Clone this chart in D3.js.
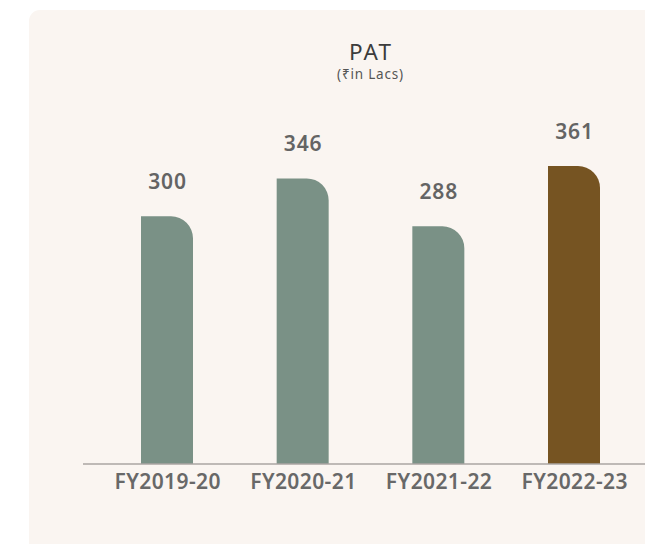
<!DOCTYPE html>
<html>
<head>
<meta charset="utf-8">
<script src="https://cdn.jsdelivr.net/npm/d3@7"></script>
<style>
  html, body { margin: 0; padding: 0; background: #fff; }
  svg { display: block; font-family: "Noto Sans", "Open Sans", sans-serif; }
</style>
</head>
<body>
<svg id="chart" width="645" height="544"></svg>
<script>
// chart data
const years = ['FY2019-20', 'FY2020-21', 'FY2021-22', 'FY2022-23'];
const pat = [300, 346, 288, 361];
const barColors = ['#7a9186', '#7a9186', '#7a9186', '#765422'];

const W = 645, H = 544;
const baseY = 464, barW = 52, corner = 22;

const svg = d3.select('#chart');

// card background
svg.append('rect')
    .attr('x', 29).attr('y', 10)
    .attr('width', W + 40).attr('height', H + 40)
    .attr('rx', 11)
    .attr('fill', '#faf5f1');

const x = d3.scalePoint().domain(years).range([167, 574]);
const y = d3.scaleLinear().domain([0, 361]).range([baseY, 166]);

// bar with only the top-right corner rounded
function barPath(cx, top) {
    const l = cx - barW / 2, r = cx + barW / 2;
    const rr = Math.min(corner, baseY - top);
    return `M${l},${baseY}V${top}H${r - rr}A${rr},${rr} 0 0 1 ${r},${top + rr}V${baseY}Z`;
}

svg.append('g').selectAll('path')
    .data(years)
    .join('path')
    .attr('d', (d, i) => barPath(x(d), y(pat[i])))
    .attr('fill', (d, i) => barColors[i]);

svg.append('g').selectAll('text')
    .data(years)
    .join('text')
    .attr('x', d => x(d) + 0.5)
    .attr('y', (d, i) => y(pat[i]) - 27)
    .attr('text-anchor', 'middle')
    .attr('font-size', 21)
    .attr('font-weight', 600)
    .attr('letter-spacing', 0.9)
    .attr('fill', '#646464')
    .text((d, i) => pat[i]);

// baseline
svg.append('line')
    .attr('x1', 83).attr('x2', W)
    .attr('y1', baseY).attr('y2', baseY)
    .attr('stroke', '#aaa5a2').attr('stroke-width', 1.5);

const axis = svg.append('g')
    .attr('transform', `translate(0,${baseY})`)
    .call(d3.axisBottom(x).tickSize(0).tickPadding(25));
axis.select('.domain').remove();
axis.selectAll('text')
    .attr('font-family', '"Noto Sans", sans-serif')
    .attr('font-size', 21)
    .attr('font-weight', 600)
    .attr('letter-spacing', 0.4)
    .attr('fill', '#686868')
    .attr('dx', 0.2)
    .attr('dy', 0);

// title
svg.append('text')
    .attr('x', 371).attr('y', 60)
    .attr('text-anchor', 'middle')
    .attr('font-size', 22.5)
    .attr('letter-spacing', 2)
    .attr('fill', '#3c3c3c')
    .text('PAT');
svg.append('text')
    .attr('x', 370.5).attr('y', 79)
    .attr('text-anchor', 'middle')
    .attr('font-size', 13.5)
    .attr('letter-spacing', 0.8)
    .attr('fill', '#555')
    .text('(₹in Lacs)');
</script>
</body>
</html>
